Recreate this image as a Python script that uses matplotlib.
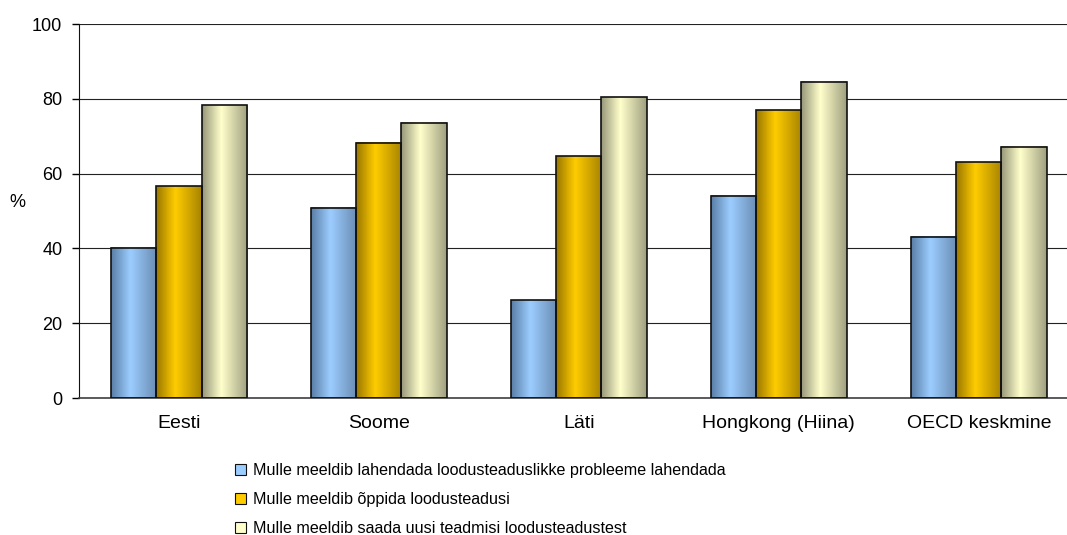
import numpy as np
import matplotlib
matplotlib.use("Agg")
from matplotlib import pyplot as plt
from matplotlib.colors import LinearSegmentedColormap
from matplotlib.patches import Patch

plt.rcParams['font.family'] = ['Liberation Sans', 'DejaVu Sans']

categories = ['Eesti', 'Soome', 'Läti', 'Hongkong (Hiina)', 'OECD keskmine']
series_names = ['Mulle meeldib lahendada loodusteaduslikke probleeme lahendada',
                'Mulle meeldib õppida loodusteadusi',
                'Mulle meeldib saada uusi teadmisi loodusteadustest']
solve_problems = [40.2, 50.9, 26.2, 54.1, 43.1]
learn_science = [56.6, 68.2, 64.7, 77.0, 63.0]
new_knowledge = [78.3, 73.6, 80.4, 84.6, 67.2]
y_ticks = [0, 20, 40, 60, 80, 100]

series = [solve_problems, learn_science, new_knowledge]
# dark edge / light centre / dark edge of each gradient
grad_colors = [('#5a7ea6', '#9ccdff', '#6a8db4'),
               ('#9a7800', '#ffcc00', '#a88400'),
               ('#98987a', '#ffffcc', '#a0a080')]

fig = plt.figure(figsize=(10.67, 5.35), dpi=100)
# plot area runs a little past the right edge of the picture
ax = fig.add_axes([0.074, 0.256, 0.937, 0.699])

w = 0.226
x = np.arange(len(categories))
for k, vals in enumerate(series):
    c0, c1, c2 = grad_colors[k]
    cmap = LinearSegmentedColormap.from_list('g%d' % k, [(0, c0), (0.42, c1), (1, c2)])
    grad = np.linspace(0, 1, 64).reshape(1, -1)
    xpos = x + (k - 1) * w
    bars = ax.bar(xpos, vals, width=w, facecolor='none', edgecolor='#111111',
                  linewidth=1.2, zorder=3)
    for b in bars:
        x0 = b.get_x()
        ax.imshow(grad, cmap=cmap, aspect='auto', interpolation='bilinear',
                  extent=[x0, x0 + b.get_width(), 0, b.get_height()], zorder=2)

ax.set_xlim(-0.5, len(categories) - 0.5)
ax.set_ylim(0, 100)
ax.set_yticks(y_ticks)
ax.set_xticks(x)
ax.set_xticklabels(categories, fontsize=14)
ax.tick_params(axis='x', length=0, pad=12)
ax.tick_params(axis='y', length=5, width=1, labelsize=13, pad=7, direction='out')
ax.yaxis.grid(True, color='#222222', linewidth=0.8)
ax.set_axisbelow(True)
ax.spines['top'].set_visible(False)
ax.spines['right'].set_visible(False)
ax.spines['left'].set_color('#111111')
ax.spines['bottom'].set_color('#404040')
ax.spines['bottom'].set_linewidth(1.2)
ax.set_ylabel('%', fontsize=13, rotation=0, ha='center', va='center')
ax.yaxis.set_label_coords(-0.062, 0.524)

handles = [Patch(facecolor=grad_colors[k][1], edgecolor='#111111', linewidth=0.8)
           for k in range(3)]
fig.legend(handles, series_names, loc='upper left', bbox_to_anchor=(0.2203, 0.135),
           frameon=False, fontsize=11.6, handlelength=0.68, handleheight=0.68,
           handletextpad=0.43, labelspacing=0.88, borderaxespad=0, borderpad=0)

plt.savefig('out.png', dpi=100)
